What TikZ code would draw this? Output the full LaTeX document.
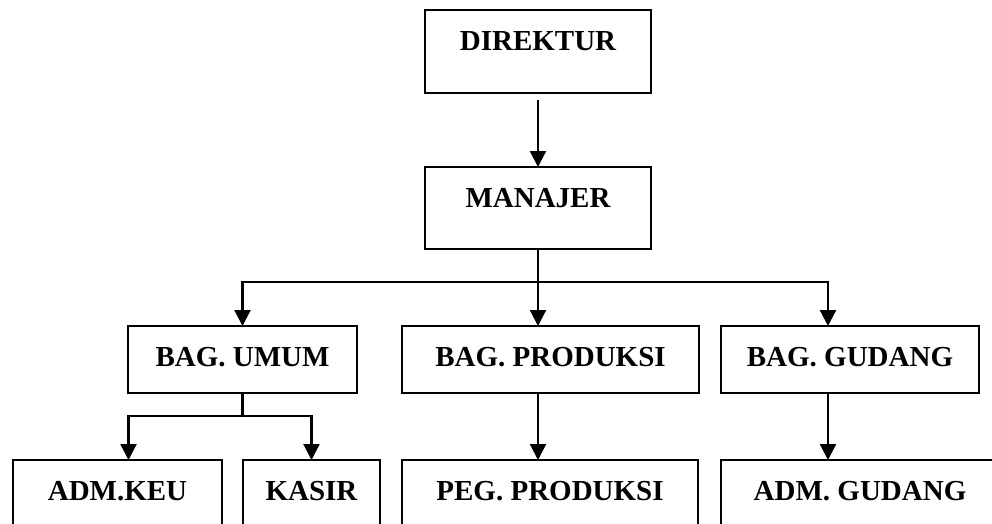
\documentclass[tikz,border=0pt]{standalone}
\usepackage{fontspec}
\setmainfont{Liberation Serif}
\usetikzlibrary{arrows.meta,calc}
\tikzset{
	jabatan/.style={draw, line width=2.2pt, anchor=north, inner sep=0pt, outer sep=0pt, text height=40pt, font=\fontsize{29}{34}\selectfont\bfseries},
	panah/.style={line width=2.2pt, -{Triangle[length=16pt,width=16pt]}},
	garis/.style={line width=2.2pt}
}

\begin{document}
\begin{tikzpicture}[x=1pt,y=-1pt]
			%%%%% START %%%%%
			\useasboundingbox (0,0) rectangle (992,523);
			\clip (0,0) rectangle (992,523);
			
			\node[jabatan, minimum width=226pt, text depth=43pt] (dir) at (538, 10) {DIREKTUR};
			\node[jabatan, minimum width=226pt, text depth=42pt] (man) at (538, 167) {MANAJER};
			
			\node[jabatan, minimum width=229pt, text depth=27pt] (umum) at (242.5, 326) {BAG. UMUM};
			\node[jabatan, minimum width=297pt, text depth=27pt] (prod) at (550.5, 326) {BAG. PRODUKSI};
			\node[jabatan, minimum width=258pt, text depth=27pt] (gud) at (850, 326) {BAG. GUDANG};
			
			\node[jabatan, minimum width=209pt, text depth=90pt] (keu) at (117.5, 460) {ADM.KEU};
			\node[jabatan, minimum width=137pt, text depth=90pt] (kasir) at (311.5, 460) {KASIR};
			\node[jabatan, minimum width=296pt, text depth=90pt] (peg) at (550, 460) {PEG. PRODUKSI};
			\node[jabatan, minimum width=278pt, text depth=90pt] (admgud) at (860, 460) {ADM. GUDANG};
			
			\draw[panah, shorten <=7pt] (dir.south) -- (man.north);
			
			\coordinate (cabang) at ($(man.south)+(0,33)$);
			\draw[garis] (man.south) -- (cabang);
			\draw[panah] (cabang) -| (umum.north);
			\draw[panah] (cabang) -- (cabang |- prod.north);
			\draw[panah] (cabang) -| ([xshift=-22pt]gud.north);
			
			\coordinate (cabangumum) at ($(umum.south)+(0,23)$);
			\draw[garis] (umum.south) -- (cabangumum);
			\draw[panah] (cabangumum) -| ([xshift=11pt]keu.north);
			\draw[panah] (cabangumum) -| (kasir.north);
			
			\draw[panah] (cabang |- prod.south) -- (cabang |- peg.north);
			\draw[panah] ([xshift=-22pt]gud.south) -- ([xshift=-22pt]gud.south |- admgud.north);
			
			%%%%% END %%%%%
		\end{tikzpicture}
\end{document}
